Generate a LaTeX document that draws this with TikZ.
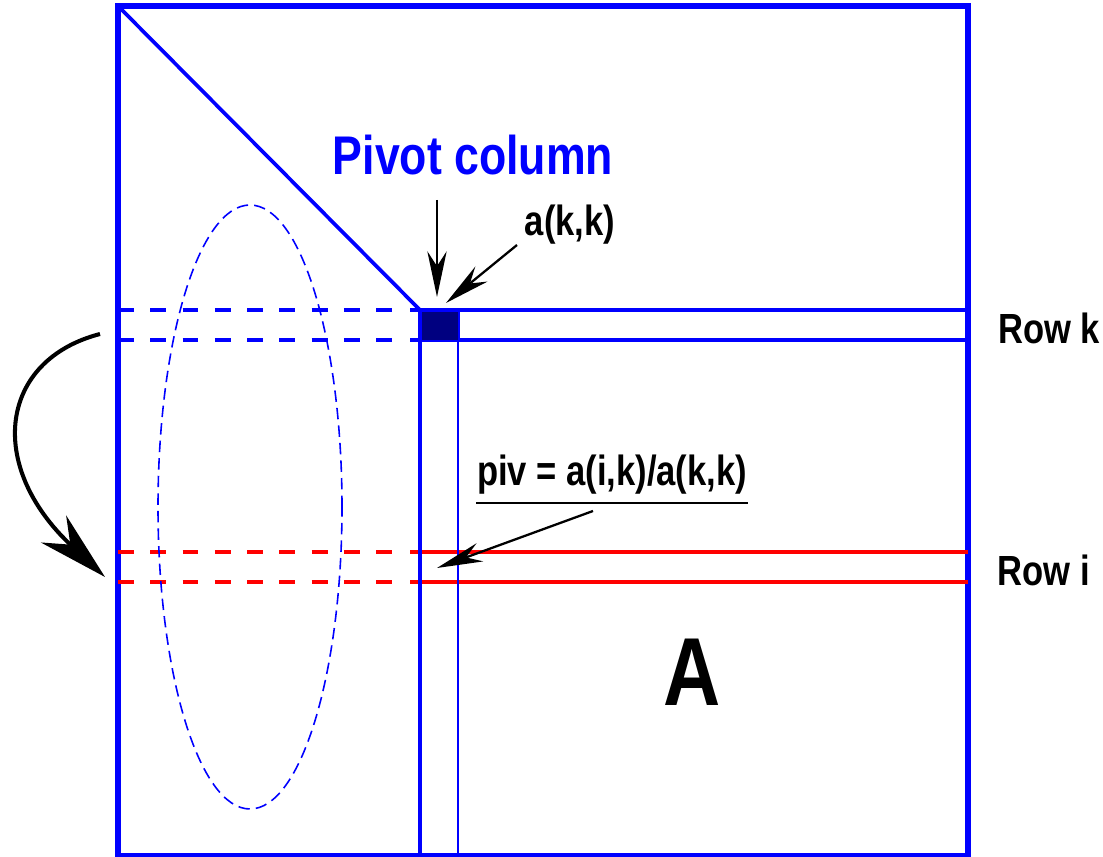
\documentclass[tikz,border=0pt]{standalone}
\usepackage{fontspec}
\usepackage{tikz}
\usetikzlibrary{arrows.meta,shapes.geometric}
\newfontfamily\narrowsans{Liberation Sans}[FakeStretch=0.82]
\definecolor{pivblue}{HTML}{0000FF}
\definecolor{pivnavy}{HTML}{000080}
\definecolor{rowred}{HTML}{FF0000}

\begin{document}
\begin{tikzpicture}[x=0.02cm, y=-0.02cm,
    frame/.style={draw=pivblue, line width=2.9pt},
    rowline/.style={line width=2.2pt},
    rowdash/.style={rowline, dash pattern=on 9.07pt off 9.3pt},
    lbl/.style={font=\narrowsans\bfseries\fontsize{24}{26}\selectfont, inner sep=0pt},
    pointer/.style={-{Stealth[length=26pt, width=11pt]}, line width=1.3pt},
    swing/.style={-{Stealth[length=40pt, width=21pt]}, line width=2.3pt}]
  \useasboundingbox (0,0) rectangle (1103,857);
  % matrix A
  \draw[frame] (118,6) rectangle (968,856);
  \draw[pivblue, line width=2.1pt] (118,6) -- (420,310);
  % row k
  \draw[rowdash, pivblue] (118,310) -- (394,310);
  \draw[rowdash, pivblue] (118,340) -- (394,340);
  \draw[rowline, pivblue] (410,310) -- (968,310);
  \draw[rowline, pivblue] (410,340) -- (968,340);
  % row i
  \draw[rowdash, rowred] (118,552) -- (394,552);
  \draw[rowdash, rowred] (118,582) -- (394,582);
  \draw[rowline, rowred] (410,552) -- (968,552);
  \draw[rowline, rowred] (410,582) -- (968,582);
  % pivot column
  \draw[pivblue, line width=2.3pt] (420,310) -- (420,856);
  \draw[pivblue, line width=1.3pt] (458,310) -- (458,856);
  \node[draw=pivblue, fill=pivnavy, line width=1pt, minimum width=38*0.02cm,
        minimum height=30*0.02cm, inner sep=0pt, anchor=north west] (akk) at (420,310) {};
  % the rows below
  \node[draw=pivblue, dash pattern=on 6.5pt off 3.5pt, line width=0.9pt, ellipse,
        minimum width=184*0.02cm, minimum height=604*0.02cm, inner sep=0pt] (rows) at (250,507) {};
  % labels
  \node[lbl, text=pivblue, font=\narrowsans\bfseries\fontsize{31}{33}\selectfont] (pcol) at (473,155) {Pivot column};
  \node[lbl] (akklbl) at (570,225) {a(k,k)};
  \node[lbl] (piv) at (612,475) {piv = a(i,k)/a(k,k)};
  \node[lbl] (rowk) at (1049,328) {Row k};
  \node[lbl] (rowi) at (1044,570) {Row i};
  \node[lbl, font=\narrowsans\bfseries\fontsize{55}{57}\selectfont] (mata) at (692,672) {A};
  \coordinate (ulL) at (476,503);
  \coordinate (ulR) at (748,503);
  \draw[line width=0.7pt] (ulL) -- (ulR);
  % pointers
  \coordinate (pcS) at (437,200);
  \coordinate (pcE) at (437,297);
  \coordinate (akS) at (517,245);
  \coordinate (akE) at (446,303);
  \coordinate (pvS) at (593,511);
  \coordinate (pvE) at (437,568);
  \coordinate (swS) at (100,334);
  \coordinate (swE) at (105,577);
  \draw[pointer] (pcS) -- (pcE);
  \draw[pointer] (akS) -- (akE);
  \draw[pointer] (pvS) -- (pvE);
  \draw[swing] (swS) .. controls (0,360) and (-15,465) .. (swE);
\end{tikzpicture}
\end{document}
